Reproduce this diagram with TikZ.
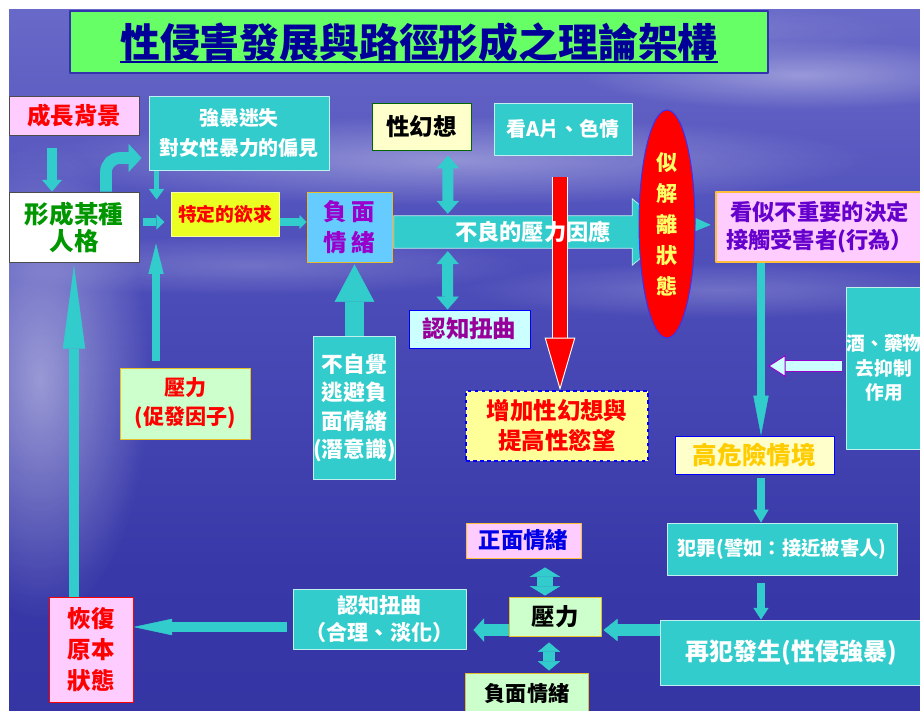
\documentclass[tikz,border=0pt]{standalone}
\usepackage{fontspec}
\setmainfont{Noto Sans CJK TC}
\usetikzlibrary{arrows.meta,calc,shapes.geometric,fadings}
\pgfdeclarelayer{back}
\pgfdeclarelayer{mid}
\pgfsetlayers{back,mid,main}
\definecolor{tl}{RGB}{51,204,204}
\definecolor{pk}{RGB}{255,204,255}
\definecolor{lgr}{RGB}{204,255,204}
\definecolor{lyl}{RGB}{255,255,204}
\definecolor{lcy}{RGB}{204,255,255}
\definecolor{ttl}{RGB}{102,255,102}
\definecolor{nvy}{RGB}{0,0,153}
\definecolor{prp}{RGB}{153,0,204}
\definecolor{mgt}{RGB}{153,0,153}
\definecolor{vio}{RGB}{102,0,204}
\definecolor{gld}{RGB}{230,190,40}
\definecolor{org}{RGB}{255,190,60}
\definecolor{grn}{RGB}{0,150,0}
\definecolor{ylw}{RGB}{235,255,35}
\definecolor{lbl}{RGB}{102,204,255}
\definecolor{hib}{RGB}{255,204,0}
\pgfdeclareverticalshading{sky}{100bp}{rgb(0bp)=(0.17,0.17,0.60); rgb(35bp)=(0.22,0.22,0.66); rgb(60bp)=(0.32,0.32,0.74); rgb(80bp)=(0.44,0.44,0.80); rgb(100bp)=(0.38,0.38,0.78)}
\tikzfading[name=soft, inner color=transparent!0, outer color=transparent!100]
\newcommand\px{0.03cm}
\newcommand\fz[2]{\fontsize{#1}{#2}\selectfont\bfseries}
\begin{document}
\begin{tikzpicture}[x=0.03cm, y=0.03cm, line join=round,
	box/.style={draw, align=center, inner sep=0pt, line width=0.8pt},
	sz/.style 2 args={minimum width=#1*\px, minimum height=#2*\px},
	tbox/.style={box, fill=tl, draw=white!70!tl, text=white},
	blk/.style n args={3}{draw=tl, line width=#1, -{Triangle[width=#2,length=#3,line width=0.4pt]}},
	dblk/.style n args={3}{draw=tl, line width=#1, {Triangle[width=#2,length=#3,line width=0.4pt]}-{Triangle[width=#2,length=#3,line width=0.4pt]}}]
	\useasboundingbox (0,0) rectangle (920,-711);
	% sky and sea
	\begin{pgfonlayer}{back}
	\shade[shading=sky] (9,-10) rectangle (920,-711);
	\begin{scope}
	\clip (9,-10) rectangle (920,-711);
	\foreach \cx/\cy/\rx/\ry/\op in {450/160/420/45/0.35,800/75/220/35/0.35,250/265/280/30/0.2,720/290/260/28/0.2,40/380/110/240/0.45,600/30/300/30/0.2}
	\fill[white, opacity=\op, path fading=soft] (\cx,-\cy) ellipse ({\rx} and {\ry});
	\end{scope}
	\end{pgfonlayer}
	% title
	\node[box, sz={698}{62}, fill=ttl, draw=nvy!80, line width=1pt] (title) at (419,-42) {};
	\node[text=nvy, inner sep=0pt, font=\fz{34pt}{40pt}] (titletxt) at (title) {性侵害發展與路徑形成之理論架構};
	\draw[nvy, line width=2pt] ($(titletxt.base west)+(0,-5)$) -- ($(titletxt.base east)+(0,-5)$);
	% left column
	\node[box, sz={130}{39}, fill=pk, draw=black!70, text=red, font=\fz{20pt}{23pt}] (grow) at (74,-115.5) {成長背景};
	\node[tbox, sz={180}{74}, font=\fz{17pt}{25.5pt}] (myth) at (239,-133) {強暴迷失\\對女性暴力的偏見};
	\node[box, sz={130}{70}, fill=white, draw=black!70, text=grn, font=\fz{21pt}{23pt}] (pers) at (74,-227) {形成某種\\人格};
	\node[box, sz={108}{44}, fill=ylw, draw=white!60!ylw, text=red, font=\fz{16pt}{20pt}] (want) at (225,-214) {特定的欲求};
	\node[box, sz={85}{70}, fill=lbl, draw=gld, text=prp, font=\fz{20pt}{26pt}] (nege) at (349.5,-227) {負\hspace{4pt}面\\情\hspace{4pt}緒};
	\node[box, sz={130}{71}, fill=lgr, draw=gld, text=red, font=\fz{18pt}{24.5pt}] (press) at (185.5,-403.5) {壓力\\(促發因子)};
	\node[tbox, sz={79}{143}, font=\fz{18.5pt}{24pt}] (avoid) at (354.5,-408) {不自覺\\逃避負\\面情緒\\(潛意識)};
	\node[box, sz={84}{105}, fill=pk, draw=red, text=red, font=\fz{20pt}{26.5pt}] (recov) at (91,-649.5) {恢復\\原本\\狀態};
	% middle
	\node[box, sz={99}{47}, fill=lyl, draw=green!40!black, text=black, font=\fz{20pt}{24pt}] (fant) at (421.5,-126.5) {性幻想};
	\node[tbox, sz={138}{52}, font=\fz{17pt}{21pt}] (porn) at (563,-129) {看A片、色情};
	\node[sz={278}{32}, inner sep=0pt] (cope) at (533,-232) {};
	\node[text=white, font=\fz{19pt}{23pt}] (copetxt) at (cope) {不良的壓力因應};
	\node[ellipse, minimum width=56*\px, minimum height=228*\px, inner sep=0pt, fill=red, draw=blue!80, line width=0.8pt, text={rgb,255:red,255;green,255;blue,102}, align=center, font=\fz{18pt}{26.5pt}] (diss) at (667,-224) {似\\解\\離\\狀\\態};
	\node[box, sz={121}{38}, fill=lcy, draw=blue, text=mgt, font=\fz{20pt}{24pt}] (cogn) at (469.5,-329) {認知扭曲};
	\node[box, sz={182}{70}, fill={rgb,255:red,255;green,255;blue,153}, draw=blue, dashed, line width=1pt, text=red, font=\fz{20pt}{25.6pt}] (incr) at (557,-426) {增加性幻想與\\提高性慾望};
	% right column
	\node[box, sz={207}{70}, fill=pk, draw=org, line width=1pt, text=vio, font=\fz{19pt}{24.5pt}] (dec) at (819.5,-227) {看似不重要的決定\\接觸受害者(行為）};
	\node[tbox, sz={74}{162}, font=\fz{16pt}{21pt}] (alc) at (884,-368) {酒、藥物\\去抑制\\作用};
	\node[box, sz={159}{38}, fill=lyl, draw=blue, text=hib, font=\fz{21pt}{25pt}] (risk) at (754.5,-455) {高危險情境};
	\node[tbox, sz={230}{52}, font=\fz{16.5pt}{20pt}] (crime) at (782,-549) {犯罪(譬如：接近被害人)};
	\node[tbox, sz={263}{65}, font=\fz{20.5pt}{24pt}] (again) at (791.5,-652.5) {再犯發生(性侵強暴)};
	% bottom
	\node[box, sz={115}{35}, fill=pk, draw=org, text={rgb,255:red,0;green,0;blue,230}, font=\fz{19pt}{23pt}] (pos) at (523.5,-540.5) {正面情緒};
	\node[box, sz={92}{39}, fill=lgr, draw=gld, text=black, font=\fz{20pt}{24pt}] (bstr) at (555,-616.5) {壓力};
	\node[box, sz={123}{40}, fill=lgr, draw=gld, text=black, font=\fz{18pt}{22pt}] (neg2) at (527,-693) {負面情緒};
	\node[tbox, sz={173}{60}, font=\fz{18pt}{23pt}] (rat) at (379.5,-619) {認知扭曲\\（合理、淡化）};
	% connectors
	\coordinate (vx) at (761,0);
	\coordinate (hy) at (0,-630);
	\coordinate (ly) at (0,-627);
	\coordinate (dx) at (545,0);
	\coordinate (rtop) at (560,-177);
	\begin{pgfonlayer}{mid}
	\draw[blk={8.5pt}{17pt}{10pt}] ($(grow.south)+(-22,-13)$) -- ($(pers.north)+(-22,0)$);
	\draw[blk={10pt}{24pt}{11pt}, rounded corners=0.42cm] ($(pers.north)+(32,0)$) |- ($(myth.west)+(-7,-25)$);
	\draw[blk={5pt}{13pt}{9pt}] ($(myth.south west)+(8,0)$) -- ($(myth.south west)+(8,-29)$);
	\draw[blk={7pt}{13pt}{7pt}] ($(pers.east)+(4,5)$) -- ($(pers.east)+(25,5)$);
	\draw[blk={7pt}{13pt}{26pt}] ($(press.north west)+(36,7)$) -- ($(press.north west)+(36,124)$);
	\draw[blk={7pt}{12pt}{6pt}] ($(want.east)+(0,-8)$) -- ($(nege.west)+(0,5)$);
	\draw[blk={8.5pt}{19pt}{71pt}] (recov.north -| pers.south) -- ($(pers.south)+(0,-3)$);
	\draw[blk={16pt}{34pt}{32pt}] (avoid.north) -- ($(avoid.north |- nege.south)+(0,-2)$);
	\filldraw[fill=tl, draw=white!70!tl, line width=0.6pt] (cope.south west) -- (cope.north west) -- ($(cope.north east)+(-40,0)$) -- ($(cope.north east)+(-40,17)$) -- (cope.east) -- ($(cope.south east)+(-40,-17)$) -- ($(cope.south east)+(-40,0)$) -- cycle;
	\draw[dblk={9.4pt}{19pt}{11pt}] ($(fant.south)+(26.5,-5)$) -- ($(cope.north west)+(54,2)$);
	\draw[dblk={9.4pt}{19pt}{11pt}] ($(cope.south west)+(54,-3)$) -- ($(cogn.north west)+(39,0)$);
	\draw[red, line width=12pt, -{Triangle[width=26pt,length=45pt,fill=red,color=white,line width=0.8pt]}, preaction={draw=white, line width=13.6pt, arrows=-, shorten >=44pt}] (rtop) -- (rtop |- incr.north);
	\draw[draw=tl, line width=0.5pt, -{Triangle[width=11pt,length=13pt,line width=0.4pt]}, shorten >=4pt] (diss) -- (dec);
	\draw[blk={6pt}{13pt}{34pt}] (vx |- dec.south) -- (vx |- risk.north);
	\draw[lcy, line width=8pt, -{Triangle[width=19pt,length=15pt,fill=lcy,color=prp,line width=0.8pt]}, preaction={draw=prp, line width=9.6pt, arrows=-, shorten >=14pt}] ($(alc.west)+(-4,2)$) -- ($(alc.west)+(-78,2)$);
	\draw[blk={6pt}{13pt}{11pt}] ($(vx |- risk.south)+(0,-4)$) -- (vx |- crime.north);
	\draw[blk={6pt}{13pt}{10pt}] ($(vx |- crime.south)+(0,-8)$) -- (vx |- again.north);
	\draw[blk={9.4pt}{19pt}{12pt}] (again.west |- hy) -- ($(bstr.east |- hy)+(2,0)$);
	\draw[blk={9.4pt}{20pt}{9pt}] (bstr.west |- hy) -- ($(rat.east |- hy)+(7,0)$);
	\draw[blk={7.7pt}{14pt}{33pt}] ($(rat.west |- ly)+(-6,0)$) -- (recov.east |- ly);
	\draw[dblk={13.5pt}{26pt}{8pt}] ($(dx |- pos.south)+(0,-9)$) -- ($(dx |- bstr.north)+(0,1)$);
	\draw[dblk={11pt}{19pt}{8pt}] ($(bstr.south)+(-6,-6)$) -- ($(neg2.north)+(22,2)$);
	\end{pgfonlayer}
\end{tikzpicture}
\end{document}
